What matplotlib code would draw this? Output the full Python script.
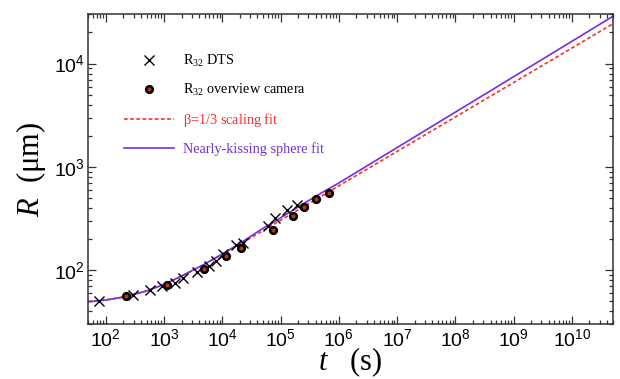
import matplotlib
matplotlib.use("Agg")
import matplotlib.pyplot as plt
from matplotlib.ticker import FixedLocator, LogLocator, NullFormatter

plt.rcParams["font.family"] = "Liberation Sans"
plt.rcParams["mathtext.fontset"] = "custom"
plt.rcParams["mathtext.rm"] = "Liberation Serif"
plt.rcParams["mathtext.it"] = "Liberation Serif:italic"

# DTS measurements (t in s, R32 in um)
t_dts = [77, 294, 570, 906, 1535, 2080, 3615, 5960, 7760, 10360,
         17100, 22300, 61500, 80200, 127000, 194000]
r_dts = [50.7, 57.8, 64.2, 69.7, 75, 85, 96.3, 110, 123, 145,
         175, 185, 271, 321, 386, 432]

# overview camera measurements
t_cam = [221, 1130, 4830, 11540, 20600, 73100, 161000, 255000, 405000, 670000]
r_cam = [56.6, 72.8, 104, 137, 164, 248, 333, 406, 490, 560]

# beta = 1/3 scaling fit
t_beta = [50, 100, 200, 500, 1e3, 2e3, 5e3, 1e4, 2e4, 5e4, 1e5, 2e5, 5e5,
          1e6, 1e7, 1e8, 1e9, 1e10, 5e10]
r_beta = [50, 51.8, 55.1, 63.2, 73.3, 87.8, 115, 143, 179, 242, 305, 384, 521,
          657, 1414, 3047, 6565, 14143, 24200]

# nearly-kissing sphere fit
t_nks = [50, 100, 200, 500, 1e3, 2e3, 5e3, 1e4, 2e4, 5e4, 1e5, 2e5, 5e5,
         1e6, 1e7, 1e8, 1e9, 1e10, 5e10]
r_nks = [49.5, 51.5, 55, 63, 73, 88, 115, 144, 182, 255, 322, 410, 560,
         700, 1541, 3393, 7470, 16440, 28600]

# labelled decades
x_ticks = [1e2, 1e3, 1e4, 1e5, 1e6, 1e7, 1e8, 1e9, 1e10]
y_ticks = [1e2, 1e3, 1e4]

purple = "#7030e0"
red = "#ff2a2a"
axis_color = "#333333"

fig = plt.figure(figsize=(6.2, 3.79), dpi=100)
ax = fig.add_axes([0.1424, 0.1443, 0.8458, 0.818])

ax.plot(t_dts, r_dts, linestyle="none", marker="x", ms=7, mew=1.0,
        color="black", label=r"R$_{32}$ DTS", zorder=3)
ax.plot(t_cam, r_cam, linestyle="none", marker="o", ms=4.8, mew=1.8,
        markeredgecolor="black", markerfacecolor="#b03a18",
        label=r"R$_{32}$ overview camera", zorder=3)
ax.plot(t_beta, r_beta, color=red, lw=1.2, dashes=(2.2, 1.5),
        label=r"$\mathrm{\beta}$=1/3 scaling fit", zorder=2)
ax.plot(t_nks, r_nks, color=purple, lw=1.2,
        label="Nearly-kissing sphere fit", zorder=2)

ax.set_xscale("log")
ax.set_yscale("log")
ax.set_xlim(50, 5e10)
ax.set_ylim(30, 3e4)

ax.xaxis.set_major_locator(FixedLocator(x_ticks))
ax.yaxis.set_major_locator(FixedLocator(y_ticks))
for axis in (ax.xaxis, ax.yaxis):
    axis.set_minor_locator(LogLocator(base=10, subs=range(2, 10), numticks=200))
    axis.set_minor_formatter(NullFormatter())

ax.tick_params(which="both", direction="in", top=True, right=True,
               color=axis_color, labelsize=14)
ax.tick_params(which="major", length=6, width=0.9, pad=2.5)
ax.tick_params(which="minor", length=3.2, width=0.9)
for spine in ax.spines.values():
    spine.set_linewidth(1.1)
    spine.set_color(axis_color)

label_font = {"family": "Liberation Serif", "size": 22}
ax.set_xlabel(r"$t$   (s)", fontdict=label_font, labelpad=-3)
ax.set_ylabel(r"$R$  (μm)", fontdict=label_font, labelpad=4)

leg = ax.legend(loc="upper left", bbox_to_anchor=(0.068, 0.875),
                frameon=False, numpoints=1,
                handlelength=3.5, handletextpad=0.6, labelspacing=0.9,
                borderpad=0, borderaxespad=0,
                prop={"family": "Liberation Serif", "size": 10.3})
leg.get_texts()[2].set_color(red)
leg.get_texts()[3].set_color(purple)

fig.savefig("out.png", dpi=100)
